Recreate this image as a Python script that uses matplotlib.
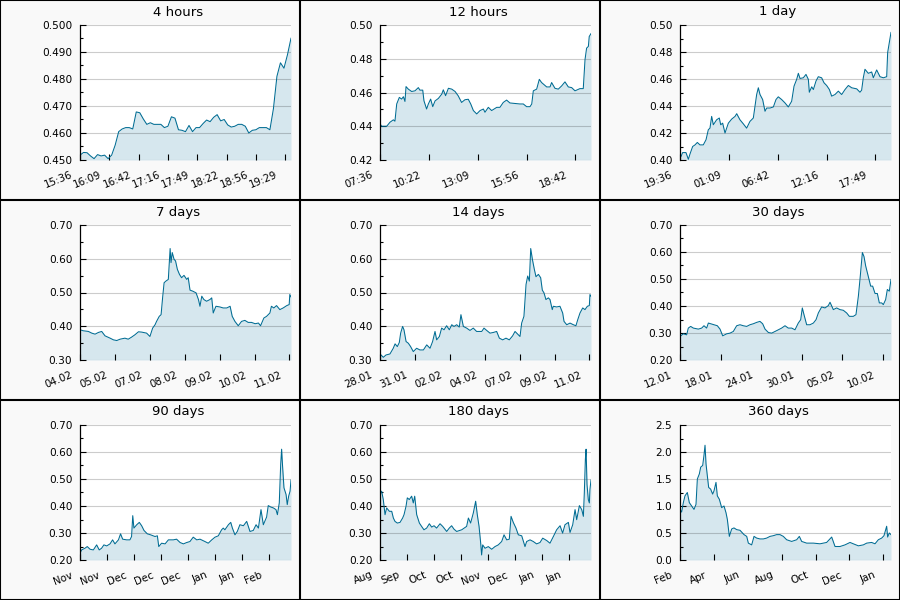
"""3x3 grid of price history panels (4 hours .. 360 days)."""

import numpy as np
import matplotlib
matplotlib.use("Agg")
import matplotlib.pyplot as plt
from matplotlib.ticker import MultipleLocator, FormatStrFormatter
from matplotlib.transforms import ScaledTranslation
from matplotlib.lines import Line2D
from matplotlib.patches import Rectangle

# ---- data -------------------------------------------------------------

# 4 hours, one value every 4 minutes
h4_values = [
    0.4518, 0.4528, 0.4527, 0.4515, 0.4505, 0.4520, 0.4515, 0.4518, 0.4505, 0.4518,
    0.4555, 0.4605, 0.4615, 0.4620, 0.4620, 0.4615, 0.4678, 0.4675, 0.4652, 0.4632,
    0.4638, 0.4632, 0.4632, 0.4632, 0.4620, 0.4625, 0.4660, 0.4655, 0.4612, 0.4610,
    0.4605, 0.4628, 0.4605, 0.4620, 0.4620, 0.4635, 0.4648, 0.4642, 0.4658, 0.4668,
    0.4645, 0.4650, 0.4630, 0.4622, 0.4625, 0.4632, 0.4632, 0.4625, 0.4600, 0.4610,
    0.4612, 0.4620, 0.4620, 0.4620, 0.4612, 0.4690, 0.4810, 0.4860, 0.4840, 0.4890,
    0.4951,
]
h4_minutes = list(range(0, 241, 4))

# 12 hours
h12_hours = [
    0.00, 0.09, 0.38, 0.57, 0.76, 0.85, 0.95, 1.10, 1.23, 1.33,
    1.42, 1.48, 1.61, 1.80, 1.99, 2.18, 2.27, 2.43, 2.50, 2.65,
    2.75, 2.88, 3.00, 3.13, 3.32, 3.51, 3.60, 3.73, 3.89, 4.08,
    4.27, 4.45, 4.64, 4.83, 5.02, 5.16, 5.31, 5.50, 5.69, 5.88,
    5.97, 6.16, 6.35, 6.64, 6.82, 7.01, 7.20, 7.39, 7.58, 7.96,
    8.15, 8.34, 8.53, 8.63, 8.72, 8.91, 9.06, 9.19, 9.48, 9.67,
    9.76, 9.95, 10.14, 10.33, 10.52, 10.71, 10.90, 11.09, 11.18, 11.37,
    11.56, 11.66, 11.75, 11.85, 11.90, 12.00,
]
h12_values = [
    0.4415, 0.4400, 0.4400, 0.4424, 0.4438, 0.4430, 0.4532, 0.4571, 0.4561, 0.4575,
    0.4547, 0.4635, 0.4620, 0.4606, 0.4610, 0.4629, 0.4614, 0.4614, 0.4551, 0.4502,
    0.4532, 0.4561, 0.4516, 0.4550, 0.4565, 0.4590, 0.4616, 0.4581, 0.4625, 0.4620,
    0.4606, 0.4580, 0.4541, 0.4557, 0.4560, 0.4532, 0.4493, 0.4473, 0.4493, 0.4502,
    0.4483, 0.4512, 0.4493, 0.4512, 0.4512, 0.4541, 0.4555, 0.4538, 0.4536, 0.4532,
    0.4532, 0.4516, 0.4516, 0.4532, 0.4610, 0.4620, 0.4678, 0.4659, 0.4633, 0.4633,
    0.4659, 0.4625, 0.4620, 0.4639, 0.4663, 0.4633, 0.4629, 0.4610, 0.4614, 0.4623,
    0.4623, 0.4795, 0.4863, 0.4873, 0.4932, 0.4949,
]

# 1 day
d1_hours = [
    0.00, 0.11, 0.30, 0.68, 0.95, 1.14, 1.44, 1.71, 1.97, 2.27,
    2.65, 2.96, 3.22, 3.41, 3.60, 3.79, 4.17, 4.47, 4.63, 4.85,
    5.12, 5.50, 5.88, 6.26, 6.45, 6.82, 7.20, 7.58, 7.96, 8.34,
    8.53, 8.72, 8.91, 9.10, 9.40, 9.67, 9.86, 10.24, 10.62, 10.92,
    11.18, 11.56, 11.94, 12.32, 12.70, 12.97, 13.27, 13.46, 13.65, 14.03,
    14.33, 14.60, 14.71, 14.98, 15.17, 15.47, 15.73, 16.11, 16.38, 16.68,
    16.99, 17.25, 17.63, 18.01, 18.39, 18.77, 19.15, 19.53, 20.10, 20.47,
    20.66, 20.85, 21.04, 21.42, 21.80, 21.99, 22.37, 22.75, 23.13, 23.51,
    23.62, 23.81, 24.00,
]
d1_values = [
    0.4050, 0.4025, 0.4055, 0.4055, 0.4005, 0.4045, 0.4100, 0.4112, 0.4130, 0.4112,
    0.4112, 0.4150, 0.4224, 0.4236, 0.4323, 0.4261, 0.4298, 0.4311, 0.4261, 0.4273,
    0.4200, 0.4273, 0.4303, 0.4323, 0.4343, 0.4298, 0.4268, 0.4236, 0.4286, 0.4311,
    0.4398, 0.4485, 0.4535, 0.4485, 0.4448, 0.4361, 0.4385, 0.4385, 0.4393, 0.4448,
    0.4468, 0.4448, 0.4423, 0.4393, 0.4435, 0.4547, 0.4597, 0.4642, 0.4604, 0.4609,
    0.4634, 0.4597, 0.4502, 0.4542, 0.4522, 0.4585, 0.4617, 0.4609, 0.4572, 0.4552,
    0.4522, 0.4473, 0.4485, 0.4510, 0.4485, 0.4522, 0.4552, 0.4535, 0.4527, 0.4502,
    0.4517, 0.4609, 0.4672, 0.4642, 0.4652, 0.4609, 0.4667, 0.4617, 0.4609, 0.4617,
    0.4796, 0.4871, 0.4945,
]

# 7 days
d7_days = [
    0.00, 0.11, 0.28, 0.39, 0.50, 0.61, 0.72, 0.83, 1.00, 1.11,
    1.22, 1.33, 1.49, 1.60, 1.71, 1.82, 1.94, 2.05, 2.21, 2.32,
    2.41, 2.49, 2.54, 2.63, 2.69, 2.74, 2.79, 2.85, 2.93, 2.99,
    3.02, 3.06, 3.12, 3.17, 3.23, 3.30, 3.37, 3.45, 3.54, 3.59,
    3.65, 3.74, 3.85, 3.93, 3.98, 4.04, 4.11, 4.20, 4.31, 4.37,
    4.42, 4.51, 4.64, 4.75, 4.87, 4.98, 5.05, 5.14, 5.25, 5.36,
    5.47, 5.58, 5.69, 5.81, 5.92, 5.99, 6.10, 6.19, 6.30, 6.35,
    6.43, 6.52, 6.63, 6.74, 6.86, 6.94, 6.96, 7.00,
]
d7_values = [
    0.3896, 0.3866, 0.3846, 0.3796, 0.3766, 0.3816, 0.3846, 0.3716, 0.3647, 0.3597,
    0.3577, 0.3617, 0.3647, 0.3617, 0.3677, 0.3746, 0.3836, 0.3826, 0.3796, 0.3697,
    0.3945, 0.4045, 0.4144, 0.4294, 0.4343, 0.4841, 0.5289, 0.5338, 0.5388, 0.6303,
    0.5886, 0.6184, 0.5985, 0.5935, 0.5687, 0.5537, 0.5438, 0.5508, 0.5388, 0.5438,
    0.5070, 0.5040, 0.4990, 0.4791, 0.4592, 0.4891, 0.4791, 0.4741, 0.4791, 0.4841,
    0.4393, 0.4592, 0.4572, 0.4542, 0.4542, 0.4592, 0.4294, 0.4144, 0.4015, 0.4144,
    0.4174, 0.4114, 0.4114, 0.4075, 0.4095, 0.4015, 0.4244, 0.4294, 0.4393, 0.4592,
    0.4542, 0.4612, 0.4493, 0.4542, 0.4612, 0.4642, 0.4940, 0.4870,
]

# 14 days
d14_days = [
    0.00, 0.22, 0.40, 0.66, 0.88, 1.00, 1.15, 1.28, 1.37, 1.50,
    1.59, 1.73, 1.88, 2.03, 2.21, 2.43, 2.65, 2.88, 3.10, 3.32,
    3.49, 3.65, 3.76, 3.94, 4.09, 4.25, 4.42, 4.60, 4.76, 4.91,
    5.09, 5.26, 5.37, 5.53, 5.75, 5.97, 6.19, 6.41, 6.75, 6.90,
    7.08, 7.30, 7.52, 7.74, 7.92, 8.14, 8.36, 8.58, 8.80, 8.96,
    9.18, 9.29, 9.40, 9.55, 9.69, 9.80, 9.91, 10.00, 10.11, 10.24,
    10.35, 10.51, 10.66, 10.77, 10.88, 11.01, 11.17, 11.28, 11.43, 11.50,
    11.72, 11.94, 12.12, 12.21, 12.39, 12.61, 12.83, 13.00, 13.12, 13.27,
    13.45, 13.60, 13.76, 13.89, 13.93, 14.00,
]
d14_values = [
    0.3179, 0.3080, 0.3149, 0.3179, 0.3348, 0.3478, 0.3398, 0.3517, 0.3796, 0.3995,
    0.3896, 0.3547, 0.3497, 0.3398, 0.3249, 0.3348, 0.3298, 0.3298, 0.3448, 0.3348,
    0.3547, 0.3846, 0.3597, 0.3697, 0.3945, 0.3896, 0.4015, 0.3896, 0.4045, 0.3995,
    0.4045, 0.3975, 0.4343, 0.3995, 0.3945, 0.3876, 0.3945, 0.3846, 0.3846, 0.3945,
    0.3876, 0.3796, 0.3816, 0.3846, 0.3647, 0.3597, 0.3647, 0.3597, 0.3716, 0.3846,
    0.3746, 0.3697, 0.4094, 0.4294, 0.5239, 0.5488, 0.5338, 0.6303, 0.5985, 0.5687,
    0.5468, 0.5537, 0.5438, 0.5070, 0.4990, 0.4791, 0.4841, 0.4791, 0.4493, 0.4592,
    0.4572, 0.4592, 0.4393, 0.4144, 0.4045, 0.4094, 0.4045, 0.4015, 0.4194, 0.4393,
    0.4542, 0.4493, 0.4592, 0.4612, 0.4940, 0.4890,
]

# 30 days
d30_days = [
    0.00, 0.47, 0.95, 1.18, 1.52, 1.90, 2.61, 3.08, 3.41, 3.79,
    4.03, 4.36, 4.83, 5.31, 5.69, 6.07, 6.64, 7.11, 7.58, 8.06,
    8.53, 9.00, 9.48, 9.95, 10.43, 10.90, 11.37, 11.75, 12.09, 12.56,
    13.03, 13.51, 13.98, 14.45, 14.93, 15.40, 15.88, 16.35, 16.82, 17.16,
    17.39, 17.63, 18.01, 18.48, 18.96, 19.34, 19.67, 20.14, 20.62, 21.09,
    21.33, 21.80, 22.27, 22.75, 23.22, 23.70, 24.08, 24.64, 25.02, 25.36,
    25.59, 25.93, 26.16, 26.40, 26.78, 27.11, 27.39, 27.73, 28.06, 28.34,
    28.67, 28.91, 29.24, 29.48, 29.76, 30.00,
]
d30_values = [
    0.2870, 0.2970, 0.2933, 0.3182, 0.3244, 0.3182, 0.3144, 0.3182, 0.3269, 0.3182,
    0.3368, 0.3343, 0.3306, 0.3269, 0.3144, 0.2896, 0.2970, 0.2995, 0.3057, 0.3269,
    0.3306, 0.3269, 0.3244, 0.3306, 0.3343, 0.3393, 0.3430, 0.3343, 0.3144, 0.3020,
    0.2995, 0.3057, 0.3119, 0.3182, 0.3269, 0.3182, 0.3182, 0.3119, 0.3368, 0.3493,
    0.3928, 0.3679, 0.3306, 0.3306, 0.3368, 0.3493, 0.3741, 0.3965, 0.3928, 0.4015,
    0.4139, 0.3866, 0.3928, 0.3866, 0.3841, 0.3741, 0.3617, 0.3617, 0.3679, 0.4363,
    0.4985, 0.5980, 0.5831, 0.5483, 0.5085, 0.4736, 0.4736, 0.4463, 0.4463, 0.4114,
    0.4114, 0.4052, 0.4239, 0.4612, 0.4550, 0.4985,
]

# 90 days
d90_days = [
    0.0, 0.7, 2.1, 3.1, 4.3, 5.7, 7.1, 8.2, 9.2, 10.2,
    11.4, 12.8, 13.9, 14.9, 16.4, 17.3, 18.2, 19.9, 21.3, 22.0,
    22.5, 23.0, 24.2, 25.3, 26.3, 27.3, 28.7, 30.1, 32.0, 33.0,
    33.6, 34.8, 36.3, 37.7, 39.8, 41.2, 42.7, 44.1, 45.5, 46.9,
    48.3, 49.8, 51.2, 53.3, 54.7, 56.2, 57.6, 59.0, 60.4, 61.1,
    61.8, 63.3, 64.3, 65.0, 66.1, 67.1, 68.2, 69.7, 71.1, 71.8,
    72.5, 73.9, 75.1, 76.1, 77.2, 78.2, 79.6, 80.3, 81.3, 82.5,
    83.6, 84.2, 85.0, 85.6, 86.0, 86.4, 87.0, 87.9, 88.4, 89.0,
    89.6, 90.0,
]
d90_values = [
    0.2249, 0.2373, 0.2435, 0.2497, 0.2398, 0.2373, 0.2560, 0.2373, 0.2435, 0.2560,
    0.2522, 0.2597, 0.2746, 0.2597, 0.2746, 0.2970, 0.2771, 0.2746, 0.2746, 0.2870,
    0.3642, 0.3182, 0.3306, 0.3393, 0.3269, 0.3094, 0.2970, 0.2933, 0.2870, 0.2896,
    0.2497, 0.2622, 0.2597, 0.2746, 0.2746, 0.2771, 0.2647, 0.2597, 0.2647, 0.2684,
    0.2846, 0.2746, 0.2771, 0.2684, 0.2622, 0.2746, 0.2846, 0.2896, 0.3119, 0.3182,
    0.3119, 0.3306, 0.3393, 0.3182, 0.2933, 0.3057, 0.3306, 0.3269, 0.3430, 0.3244,
    0.3057, 0.3094, 0.3306, 0.3182, 0.3866, 0.3306, 0.3592, 0.4015, 0.3965, 0.3928,
    0.3866, 0.3679, 0.4114, 0.5545, 0.6104, 0.5483, 0.4674, 0.4425, 0.4052, 0.4363,
    0.4550, 0.4960,
]

# 180 days
d180_days = [
    0.0, 1.4, 2.8, 4.3, 5.7, 8.0, 10.0, 11.4, 12.8, 14.8,
    17.1, 19.3, 20.5, 22.2, 23.3, 25.0, 27.0, 28.4, 29.6, 31.3,
    33.6, 35.5, 37.5, 39.8, 42.1, 44.1, 46.1, 48.3, 51.2, 53.5,
    56.9, 59.1, 61.1, 63.1, 65.4, 69.7, 73.9, 75.4, 77.3, 79.6,
    81.6, 83.0, 84.5, 85.9, 86.7, 87.6, 89.6, 92.4, 95.3, 98.1,
    100.9, 103.8, 105.8, 108.1, 110.3, 111.8, 113.7, 116.0, 118.0, 120.9,
    123.7, 125.1, 128.0, 130.8, 133.6, 136.5, 138.8, 142.2, 145.0, 147.9,
    150.7, 153.6, 155.8, 157.8, 160.7, 162.1, 164.4, 166.4, 167.8, 170.1,
    172.1, 173.5, 174.3, 175.2, 175.8, 176.6, 177.7, 178.6, 179.1, 180.0,
]
d180_values = [
    0.4425, 0.4550, 0.4239, 0.3679, 0.3928, 0.3803, 0.3803, 0.3555, 0.3430, 0.3368,
    0.3393, 0.3555, 0.3679, 0.3990, 0.4301, 0.4239, 0.4363, 0.4114, 0.4363, 0.3679,
    0.3368, 0.3244, 0.3119, 0.3182, 0.3343, 0.3219, 0.3269, 0.3182, 0.3343, 0.3244,
    0.3057, 0.3182, 0.3269, 0.3144, 0.3057, 0.3119, 0.3244, 0.3555, 0.3368, 0.3741,
    0.4176, 0.3679, 0.3244, 0.2622, 0.2187, 0.2560, 0.2435, 0.2497, 0.2398, 0.2497,
    0.2560, 0.2684, 0.2933, 0.2746, 0.2771, 0.3617, 0.3393, 0.3182, 0.2933, 0.2896,
    0.2497, 0.2684, 0.2746, 0.2684, 0.2597, 0.2647, 0.2809, 0.2722, 0.2622, 0.2871,
    0.3119, 0.3269, 0.2995, 0.3306, 0.3393, 0.3020, 0.3306, 0.3866, 0.3493, 0.4015,
    0.3866, 0.3617, 0.4488, 0.5731, 0.6104, 0.4799, 0.4239, 0.4114, 0.4612, 0.4960,
]

# 360 days
d360_days = [
    0, 2.8, 5.7, 8.5, 12.5, 15.9, 19.9, 23.9, 27.3, 29.6,
    33.0, 35.3, 38.7, 40.9, 42.7, 44.4, 46.6, 48.9, 52.3, 55.7,
    58.0, 61.4, 63.7, 67.1, 71.1, 75.1, 78.5, 80.8, 84.2, 88.2,
    92.1, 96.7, 102.4, 109.2, 113.8, 116.6, 122.3, 126.3, 130.8, 136.5,
    142.2, 147.9, 153.6, 159.2, 164.9, 170.6, 176.3, 182.0, 190.5, 199.1,
    203.6, 207.6, 216.1, 227.5, 238.9, 250.2, 258.8, 264.5, 273.0, 281.5,
    290.1, 295.7, 304.3, 312.8, 318.5, 327.0, 332.7, 338.4, 344.1, 348.0,
    352.6, 354.3, 357.1, 360.0,
]
d360_values = [
    0.9375, 0.8875, 1.0625, 1.1875, 1.25, 1.0625, 1.0, 0.9375, 1.03, 1.5,
    1.594, 1.719, 1.75, 1.9375, 2.125, 1.78, 1.5625, 1.344, 1.3125, 1.22,
    1.28, 1.4375, 1.1875, 1.125, 0.97, 1.0, 0.875, 0.75, 0.4375, 0.575,
    0.594, 0.5625, 0.55, 0.47, 0.4375, 0.3125, 0.28, 0.4375, 0.406, 0.39,
    0.39, 0.406, 0.4375, 0.45, 0.47, 0.47, 0.4375, 0.375, 0.344, 0.375,
    0.4375, 0.344, 0.3125, 0.3125, 0.3, 0.325, 0.425, 0.25, 0.25, 0.28,
    0.325, 0.3, 0.2625, 0.28, 0.3125, 0.325, 0.3, 0.375, 0.406, 0.45,
    0.625, 0.425, 0.5, 0.47,
]

# tick positions (same units as the x data) and labels
h4_ticks = [0, 33.33, 66.67, 100, 133.33, 166.67, 200, 233.33]
h4_labels = ["15:36", "16:09", "16:42", "17:16", "17:49", "18:22", "18:56", "19:29"]
h12_ticks = [0, 2.778, 5.556, 8.333, 11.111]
h12_labels = ["07:36", "10:22", "13:09", "15:56", "18:42"]
d1_ticks = [0, 5.556, 11.111, 16.667, 22.222]
d1_labels = ["19:36", "01:09", "06:42", "12:16", "17:49"]
d7_ticks = [0, 1.158, 2.316, 3.474, 4.632, 5.79, 6.948]
d7_labels = ["04.02", "05.02", "07.02", "08.02", "09.02", "10.02", "11.02"]
d14_ticks = [0, 2.316, 4.632, 6.948, 9.264, 11.58, 13.896]
d14_labels = ["28.01", "31.01", "02.02", "04.02", "07.02", "09.02", "11.02"]
d30_ticks = [0, 5.77, 11.54, 17.31, 23.08, 28.85]
d30_labels = ["12.01", "18.01", "24.01", "30.01", "05.02", "10.02"]
d90_ticks = [0, 11.54, 23.08, 34.62, 46.16, 57.7, 69.24, 80.78]
d90_labels = ["Nov", "Nov", "Dec", "Dec", "Dec", "Jan", "Jan", "Feb"]
d180_ticks = [0, 23.08, 46.16, 69.24, 92.32, 115.4, 138.48, 161.56]
d180_labels = ["Aug", "Sep", "Oct", "Oct", "Nov", "Dec", "Jan", "Jan"]
d360_ticks = [0, 57.8, 115.6, 173.4, 231.2, 289.0, 346.8]
d360_labels = ["Feb", "Apr", "Jun", "Aug", "Oct", "Dec", "Jan"]

titles = ["4 hours", "12 hours", "1 day", "7 days", "14 days", "30 days",
          "90 days", "180 days", "360 days"]
spans = [240, 12, 24, 7, 14, 30, 90, 180, 360]
# (ymin, ymax, major step, tick format)
y_ranges = [
    (0.45, 0.50, 0.01, "%.3f"),
    (0.42, 0.50, 0.02, "%.2f"),
    (0.40, 0.50, 0.02, "%.2f"),
    (0.30, 0.70, 0.10, "%.2f"),
    (0.30, 0.70, 0.10, "%.2f"),
    (0.20, 0.70, 0.10, "%.2f"),
    (0.20, 0.70, 0.10, "%.2f"),
    (0.20, 0.70, 0.10, "%.2f"),
    (0.0, 2.5, 0.5, "%.1f"),
]

series = [
    (h4_minutes, h4_values, h4_ticks, h4_labels),
    (h12_hours, h12_values, h12_ticks, h12_labels),
    (d1_hours, d1_values, d1_ticks, d1_labels),
    (d7_days, d7_values, d7_ticks, d7_labels),
    (d14_days, d14_values, d14_ticks, d14_labels),
    (d30_days, d30_values, d30_ticks, d30_labels),
    (d90_days, d90_values, d90_ticks, d90_labels),
    (d180_days, d180_values, d180_ticks, d180_labels),
    (d360_days, d360_values, d360_ticks, d360_labels),
]

# ---- drawing ----------------------------------------------------------

LINE = "#006c93"
FILL = "#d6e7ee"
W, H = 900, 600
PW, PH = 300, 200

fig = plt.figure(figsize=(9, 6), dpi=100, facecolor="#f9f9f9")

for i, ((xs, ys, ticks, labels), title, span, yr) in enumerate(
    zip(series, titles, spans, y_ranges)
):
    row, col = divmod(i, 3)
    px, py = col * PW, row * PH
    # axes box inside the panel: x 80..291, y 25..160 (pixels from panel top-left)
    ax = fig.add_axes([
        (px + 80) / W,
        (H - py - 160) / H,
        211 / W,
        135 / H,
    ])
    ax.set_facecolor("white")

    xs = np.asarray(xs, dtype=float)
    ys = np.asarray(ys, dtype=float)
    ymin, ymax, step, fmt = yr

    ax.fill_between(xs, ys, ymin, color=FILL, lw=0, zorder=1)
    ax.plot(xs, ys, color=LINE, lw=0.75, zorder=3)

    ax.set_xlim(0, span)
    ax.set_ylim(ymin, ymax)

    ax.yaxis.set_major_locator(MultipleLocator(step))
    ax.yaxis.set_minor_locator(MultipleLocator(step / 2))
    ax.yaxis.set_major_formatter(FormatStrFormatter(fmt))
    ax.grid(axis="y", which="major", color="black", alpha=0.2, lw=0.8, zorder=2)
    ax.set_axisbelow(False)

    ax.set_xticks(ticks)
    ax.set_xticklabels(labels)

    for s in ("top", "right", "bottom"):
        ax.spines[s].set_visible(False)
    ax.spines["left"].set_linewidth(0.9)
    ax.spines["left"].set_zorder(4)

    ax.tick_params(axis="y", which="major", direction="in", length=4.5,
                   width=0.8, labelsize=7.6, pad=5.5)
    ax.tick_params(axis="y", which="minor", direction="in", length=2.2, width=0.8)
    ax.tick_params(axis="x", which="major", direction="in", length=4.5,
                   width=0.8, labelsize=7.4, pad=7)

    shift = ScaledTranslation(-7 / 72, 0, fig.dpi_scale_trans)
    for lab in ax.get_xticklabels():
        lab.set_rotation(22)
        lab.set_ha("right")
        lab.set_va("top")
        lab.set_rotation_mode("anchor")
        lab.set_transform(lab.get_transform() + shift)

    fig.text((px + 178) / W, (H - py - 12) / H, title, ha="center", va="center",
             fontsize=9.5)

# panel separators and outer frame
for x in (PW, 2 * PW):
    fig.add_artist(Line2D([x / W, x / W], [0, 1], color="black", lw=1.5,
                          transform=fig.transFigure))
for y in (PH, 2 * PH):
    fig.add_artist(Line2D([0, 1], [y / H, y / H], color="black", lw=1.5,
                          transform=fig.transFigure))
fig.add_artist(Rectangle((0, 0), 1, 1, fill=False, ec="black", lw=1.5,
                         transform=fig.transFigure))

fig.savefig("out.png", dpi=100, facecolor=fig.get_facecolor())
